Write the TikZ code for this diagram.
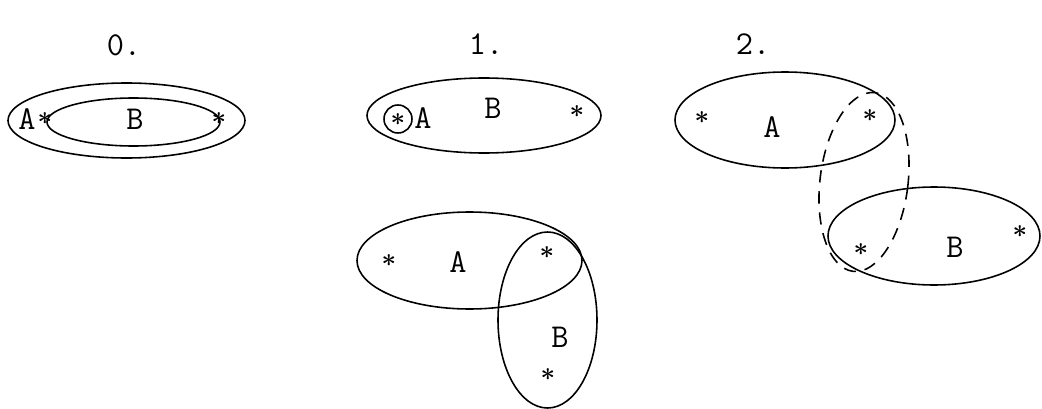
\documentclass[tikz,border=0pt]{standalone}
\usepackage{tikz}
\usetikzlibrary{positioning}

\tikzset{
  conj/.style={line width=0.9pt},
  tracejado/.style={line width=0.9pt, dash pattern=on 7pt off 5pt},
  rotulo/.style={font=\fontsize{19}{21}\selectfont\ttfamily, inner sep=0pt},
  ponto/.style={font=\fontsize{15}{17}\selectfont\boldmath, inner sep=0pt}
}

\begin{document}
\begin{tikzpicture}[x=0.02cm, y=-0.02cm]
        \useasboundingbox (0,0) rectangle (1042,409);

        % Caso 0: B dentro de A
        \node[rotulo] (t0) at (124,45) {0.};
        \draw[conj] (126.5,120.5) ellipse (118.5 and 37.5);
        \draw[conj] (133.5,122) ellipse (86.5 and 24);
        \node[rotulo] (a0) at (27,119) {A};
        \node[ponto] (p0a) at (45,119) {$\ast$};
        \node[rotulo] (b0) at (135,119) {B};
        \node[ponto] (p0b) at (219,119) {$\ast$};

        % Caso 1: A dentro de B
        \node[rotulo] (t1) at (486,44) {1.};
        \draw[conj] (484,115.5) ellipse (117 and 37.5);
        \draw[conj] (398,119) circle (14);
        \node[ponto] (p1a) at (398,120) {$\ast$};
        \node[rotulo] (a1) at (423,118) {A};
        \node[rotulo] (b1) at (493,108) {B};
        \node[ponto] (p1b) at (577,112) {$\ast$};

        % Caso 1: A e B se cruzam
        \draw[conj] (469.5,260.5) ellipse (112.5 and 48.5);
        \draw[conj] (547.5,320) ellipse (49.5 and 88);
        \node[ponto] (p1c) at (389,261) {$\ast$};
        \node[rotulo] (a2) at (458,262) {A};
        \node[ponto] (p1d) at (547,253) {$\ast$};
        \node[rotulo] (b2) at (560,337) {B};
        \node[ponto] (p1e) at (548,375) {$\ast$};

        % Caso 2: A e B separados
        \node[rotulo] (t2) at (753,44) {2.};
        \draw[conj] (785,120) ellipse (110 and 48);
        \draw[conj] (934,236) ellipse (106 and 49);
        \draw[tracejado, rotate around={-7:(864,182)}] (864,182) ellipse (44 and 90);
        \node[ponto] (p2a) at (702,118) {$\ast$};
        \node[rotulo] (a3) at (772,127) {A};
        \node[ponto] (p2b) at (870,116) {$\ast$};
        \node[ponto] (p2c) at (861,250) {$\ast$};
        \node[rotulo] (b3) at (955,247) {B};
        \node[ponto] (p2d) at (1020,232) {$\ast$};
    \end{tikzpicture}
\end{document}
